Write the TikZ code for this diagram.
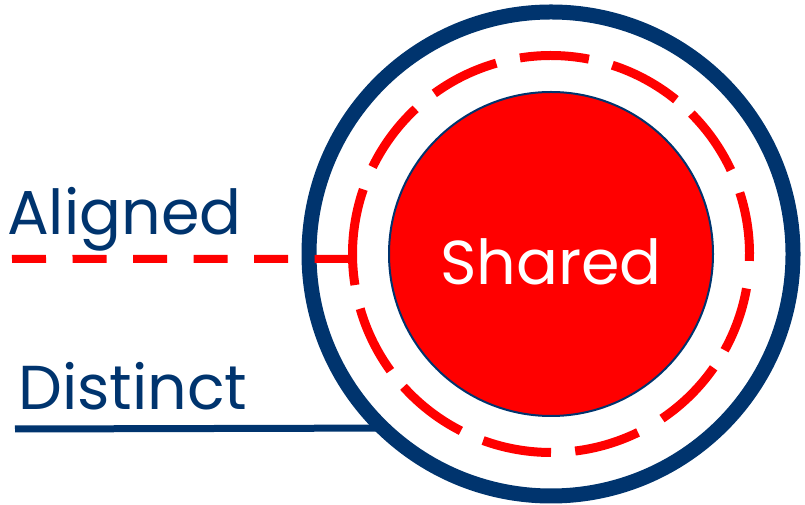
\documentclass[tikz,border=0pt]{standalone}
\usepackage{fontspec}
\setmainfont{Poppins}
\usetikzlibrary{positioning}
\definecolor{navy}{RGB}{0,52,110}
\definecolor{brightred}{RGB}{255,0,0}

\begin{document}
\begin{tikzpicture}[x=1pt,y=1pt,
	lbl/.style={text=navy, inner sep=0pt, font=\fontsize{62}{70}\selectfont},
	ring/.style={draw=navy, line width=15pt},
	dashring/.style={draw=brightred, line width=9pt},
	core/.style={circle, fill=brightred, draw=navy, line width=2pt, minimum size=324pt, inner sep=0pt},
	alignln/.style={draw=brightred, line width=8pt, dash pattern=on 34pt off 26.5pt},
	distln/.style={draw=navy, line width=7pt}]
\useasboundingbox (0,0) rectangle (805,505);
\coordinate (c) at (551,251);
\node[core] (shared) at (c) {};
\node[lbl, text=white, anchor=base] (sharedlbl) at ([yshift=-31pt]shared.center) {Shared};
\draw[ring] (c) circle[radius=242];
\foreach \a/\b in {79/99, 51/72, 25/45, -2/18, -29/-10, -56/-35, -83/-64,
		-110/-90, -138/-117, -164/-144, 161/189, 133/154, 106/126}
	\draw[dashring] (c) ++(\a:198.5) arc[start angle=\a, end angle=\b, radius=198.5];

\node[lbl, anchor=base west] (aligned) at (7,270) {Aligned};
\node[lbl, anchor=base west] (distinct) at (18,95) {Distinct};
\coordinate (alstart) at (12,246);
\coordinate (alend) at ([shift={(181.4:198.5)}]c);
\coordinate (dstart) at (15,76);
\coordinate (dend) at ([shift={(226:242)}]c);
\draw[alignln] (alstart) -- (alend);
\draw[distln] (dstart) -- (dend);
\end{tikzpicture}
\end{document}
